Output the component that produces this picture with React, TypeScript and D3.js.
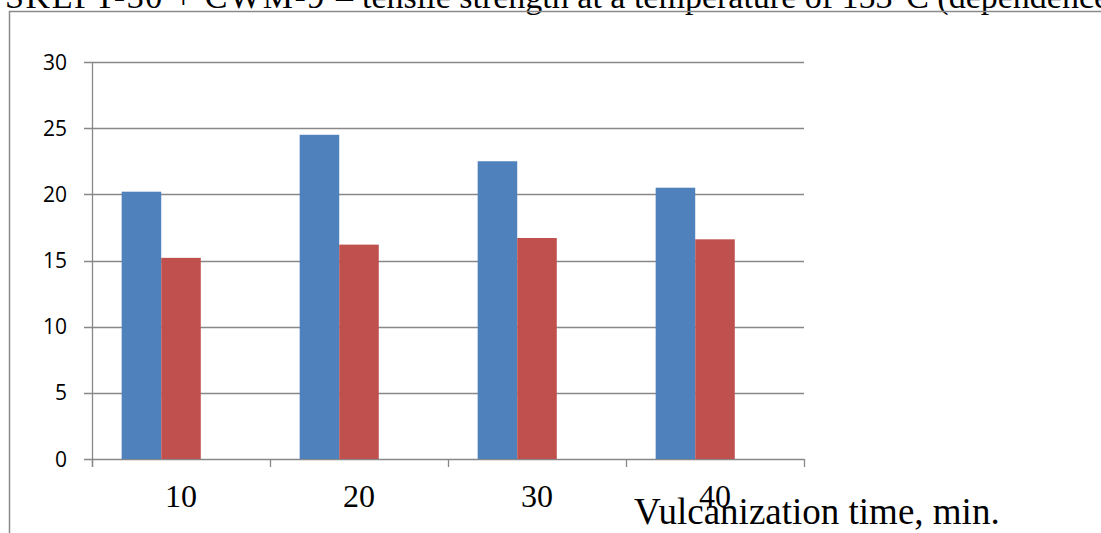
import React from "react";
import * as d3 from "d3";

const categories = ["10", "20", "30", "40"];
const seriesA = [20.2, 24.5, 22.5, 20.5];
const seriesB = [15.2, 16.2, 16.7, 16.6];
const yTicks = [0, 5, 10, 15, 20, 25, 30];
const titlePrefix = "SKEPT-30 + CWM-9 –";
const titleRest = "tensile strength at a temperature of 153°C (dependence on vulcanization time)";
const xTitle = "Vulcanization time, min.";

const W = 1101;
const H = 533;
const plot = { left: 92, right: 804, top: 62, bottom: 459 };

export default function App() {
  const x = d3.scaleBand<string>().domain(categories).range([plot.left, plot.right]).padding(0);
  const y = d3.scaleLinear().domain([0, 30]).range([plot.bottom, plot.top]);
  const bw = x.bandwidth();
  // clustered: 3 slots, gap 150%
  const barW = bw / 4.5;
  const series = [
    { values: seriesA, color: "#4F81BD" },
    { values: seriesB, color: "#C0504D" },
  ];
  const xTickPositions = [...categories.map((c) => x(c) as number), plot.right];
  const grid = "#888888";
  return (
    <svg
      width={W}
      height={H}
      style={{ position: "absolute", left: 0, top: 0, background: "#fff" }}
    >
      <text
        y={8}
        fontFamily="'Liberation Serif', 'Times New Roman', serif"
        fontSize={34}
        fill="#000"
      >
        <tspan x={5} textLength={348} lengthAdjust="spacing">{titlePrefix}</tspan>
        <tspan x={362}>{titleRest}</tspan>
      </text>
      <path d={`M9.5,${H} V11.5 H${W}`} fill="none" stroke="#8a8a8a" strokeWidth={1.5} />
      {yTicks.map((t) => (
        <g key={t}>
          <line
            x1={plot.left - 8}
            x2={plot.right}
            y1={Math.round(y(t)) + 0.5}
            y2={Math.round(y(t)) + 0.5}
            stroke={grid}
            strokeWidth={1.3}
          />
          <text
            x={67}
            y={y(t)}
            dy="0.36em"
            textAnchor="end"
            fontFamily="'Open Sans', sans-serif"
            fontSize={21}
            fill="#000"
          >
            {t}
          </text>
        </g>
      ))}
      <line x1={plot.left + 0.5} x2={plot.left + 0.5} y1={plot.top} y2={plot.bottom + 8} stroke={grid} strokeWidth={1.3} />
      {xTickPositions.map((p, i) => (
        <line key={i} x1={p + 0.5} x2={p + 0.5} y1={plot.bottom} y2={plot.bottom + 8} stroke={grid} strokeWidth={1.3} />
      ))}
      {series.map((s, si) =>
        s.values.map((v, i) => {
          const x0 = (x(categories[i]) as number) + barW * 0.75 + si * barW;
          return (
            <rect
              key={`${si}-${i}`}
              x={x0}
              y={y(v)}
              width={barW}
              height={y(0) - y(v)}
              fill={s.color}
            />
          );
        })
      )}
      {categories.map((c) => (
        <text
          key={c}
          x={(x(c) as number) + bw / 2}
          y={507}
          textAnchor="middle"
          fontFamily="'Liberation Serif', 'Times New Roman', serif"
          fontSize={32}
          fill="#000"
        >
          {c}
        </text>
      ))}
      <text
        x={634}
        y={524}
        fontFamily="'Liberation Serif', 'Times New Roman', serif"
        fontSize={37}
        fill="#000"
      >
        {xTitle}
      </text>
    </svg>
  );
}
